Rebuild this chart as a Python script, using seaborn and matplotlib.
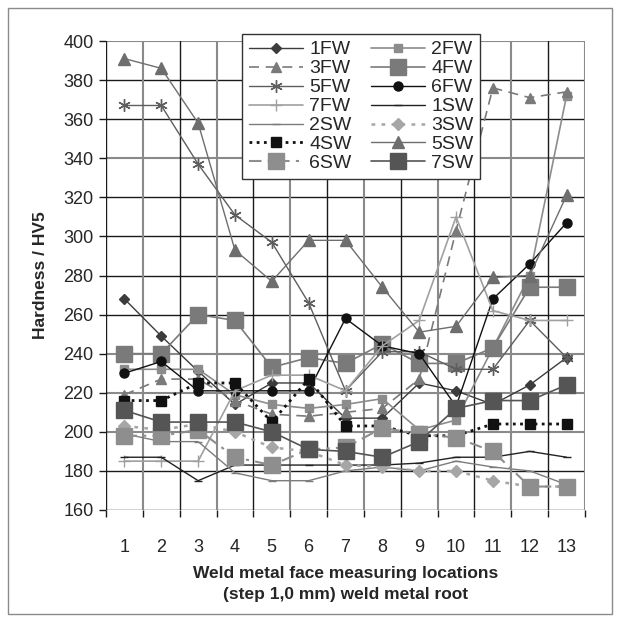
import numpy as np
import pandas as pd
import matplotlib
matplotlib.use("Agg")
import matplotlib.pyplot as plt
from matplotlib.patches import Rectangle
import seaborn as sns

# ---------------- data ----------------
locations = list(range(1, 14))
fw1 = [268, 249, 231, 214, 225, 225, 207, 207, 225, 221, 214, 224, 238]
fw2 = [232, 232, 232, 219, 214, 212, 214, 217, 201, 206, 243, 280, 372]
fw3 = [219, 227, 227, 216, 209, 208, 210, 212, 227, 303, 376, 371, 374]
fw4 = [240, 240, 260, 257, 233, 238, 235, 245, 235, 235, 243, 274, 274]
fw5 = [367, 367, 337, 311, 297, 266, 221, 241, 241, 232, 232, 257, 238]
fw6 = [230, 236, 221, 221, 221, 221, 258, 244, 240, 213, 268, 286, 307]
fw7 = [185, 185, 185, 221, 229, 229, 221, 244, 257, 310, 262, 257, 257]
sw1 = [187, 187, 175, 183, 183, 183, 183, 183, 184, 187, 187, 190, 187]
sw2 = [199, 195, 195, 179, 175, 175, 180, 182, 180, 185, 182, 180, 173]
sw3 = [203, 201, 204, 200, 192, 190, 183, 182, 180, 180, 175, 172, 172]
sw4 = [216, 216, 225, 225, 205, 227, 203, 203, 198, 198, 204, 204, 204]
sw5 = [391, 386, 358, 293, 277, 298, 298, 274, 251, 254, 279, 280, 321]
sw6 = [198, 198, 201, 187, 183, 191, 192, 202, 199, 197, 190, 172, 172]
sw7 = [211, 205, 205, 205, 200, 191, 190, 187, 195, 212, 216, 216, 224]

series_names = ["1FW", "2FW", "3FW", "4FW", "5FW", "6FW", "7FW",
                "1SW", "2SW", "3SW", "4SW", "5SW", "6SW", "7SW"]
series_values = [fw1, fw2, fw3, fw4, fw5, fw6, fw7,
                 sw1, sw2, sw3, sw4, sw5, sw6, sw7]
y_ticks = list(range(160, 401, 20))

# ---------------- styles ----------------
styles = {
    "1FW": dict(color="#3c3c3c", marker="D", ms=5.0, ls="-", lw=1.0),
    "2FW": dict(color="#8c8c8c", marker="s", ms=5.5, ls="-", lw=1.2),
    "3FW": dict(color="#7a7a7a", marker="^", ms=7.5, ls=(0, (6, 4)), lw=1.2),
    "4FW": dict(color="#7a7a7a", marker="s", ms=11, ls="-", lw=1.2),
    "5FW": dict(color="#5e5e5e", marker=(6, 2, 0), ms=9, ls="-", lw=1.0),
    "6FW": dict(color="#111111", marker="o", ms=6.5, ls="-", lw=1.0),
    "7FW": dict(color="#a0a0a0", marker="+", ms=9, ls="-", lw=1.2),
    "1SW": dict(color="#222222", marker="_", ms=6, ls="-", lw=1.0),
    "2SW": dict(color="#7c7c7c", marker="_", ms=6, ls="-", lw=1.0),
    "3SW": dict(color="#a6a6a6", marker="D", ms=6, ls=(0, (1.5, 2.5)), lw=1.8),
    "4SW": dict(color="#111111", marker="s", ms=7.5, ls=(0, (1, 1.6)), lw=2.0),
    "5SW": dict(color="#6e6e6e", marker="^", ms=8, ls="-", lw=1.0),
    "6SW": dict(color="#8e8e8e", marker="s", ms=11, ls=(0, (6, 3, 1.5, 3)), lw=1.5),
    "7SW": dict(color="#555555", marker="s", ms=11, ls="-", lw=1.2),
}

# ---------------- figure ----------------
sns.set_style("white")
plt.rcParams["font.family"] = ["Liberation Sans", "DejaVu Sans"]

fig = plt.figure(figsize=(6.2, 6.22), dpi=100)
ax = fig.add_axes([106 / 620, 1 - 510 / 622, (585 - 106) / 620, (510 - 41) / 622])

# grid lines (scan-like mix of dark and grey lines)
h_colors = {400: "#8a8a8a", 380: "#1a1a1a", 360: "#1a1a1a", 340: "#8a8a8a",
            320: "#1a1a1a", 300: "#1a1a1a", 280: "#1a1a1a", 260: "#1a1a1a",
            240: "#8a8a8a", 220: "#8a8a8a", 200: "#8a8a8a", 180: "#1a1a1a",
            160: "#1a1a1a"}
for yv in y_ticks:
    c = h_colors[yv]
    ax.axhline(yv, color=c, lw=1.0 if c == "#1a1a1a" else 1.5, zorder=0.5)
v_pattern = ["#1a1a1a", "#8a8a8a"]
for i, xb in enumerate(np.arange(0.5, 14.0, 1.0)):
    c = v_pattern[i % 2]
    ax.axvline(xb, color=c, lw=1.0 if c == "#1a1a1a" else 1.5, zorder=0.5)

for name, vals in zip(series_names, series_values):
    st = styles[name]
    df = pd.DataFrame({"loc": locations, "hv": vals})
    sns.lineplot(data=df, x="loc", y="hv", ax=ax, color=st["color"],
                 marker=st["marker"], markersize=st["ms"],
                 linestyle=st["ls"], linewidth=st["lw"],
                 markeredgecolor=st["color"], markerfacecolor=st["color"],
                 markeredgewidth=1.0, label=name, legend=False)

ax.set_xlim(0.5, 13.5)
ax.set_ylim(160, 400)
ax.set_yticks(y_ticks)
ax.set_xticks(locations)
ax.set_xticks(np.arange(0.5, 14.0, 1.0), minor=True)
ax.set_xticklabels([str(v) for v in locations])
ax.tick_params(axis="x", which="major", length=0, pad=21, labelsize=13)
ax.tick_params(axis="x", which="minor", length=5, width=1, color="#1a1a1a",
               direction="out", bottom=True)
ax.tick_params(axis="y", which="major", length=5, width=1, color="#1a1a1a",
               direction="out", pad=4, labelsize=13, left=True)
for s in ax.spines.values():
    s.set_visible(False)

ax.set_xlabel("Weld metal face measuring locations\n(step 1,0 mm) weld metal root",
              fontsize=12.5, fontweight="bold", labelpad=7, linespacing=1.5)
ax.set_ylabel("Hardness / HV5", fontsize=12.5, fontweight="bold", labelpad=11)

# legend: row-wise order 1FW 2FW / 3FW 4FW / ...
handles, labels = ax.get_legend_handles_labels()
hmap = dict(zip(labels, handles))
col1 = ["1FW", "3FW", "5FW", "7FW", "2SW", "4SW", "6SW"]
col2 = ["2FW", "4FW", "6FW", "1SW", "3SW", "5SW", "7SW"]
order = col1 + col2
leg = ax.legend([hmap[n] for n in order], order, ncol=2,
                loc="upper left", bbox_to_anchor=((242 - 106) / 479, 1 + 7 / 469),
                fontsize=14, frameon=True, fancybox=False, framealpha=1,
                edgecolor="#333333", handlelength=2.8, handletextpad=0.3,
                columnspacing=1.0, labelspacing=0.07, borderpad=0.35,
                borderaxespad=0)
leg.get_frame().set_linewidth(1.0)
leg.set_zorder(10)

# figure border
fig.patches.append(Rectangle((8 / 620, 1 - 614 / 622), 604 / 620, 606 / 622,
                             transform=fig.transFigure, fill=False,
                             edgecolor="#8a8a8a", lw=1.0))

fig.savefig("out.png", dpi=100)
